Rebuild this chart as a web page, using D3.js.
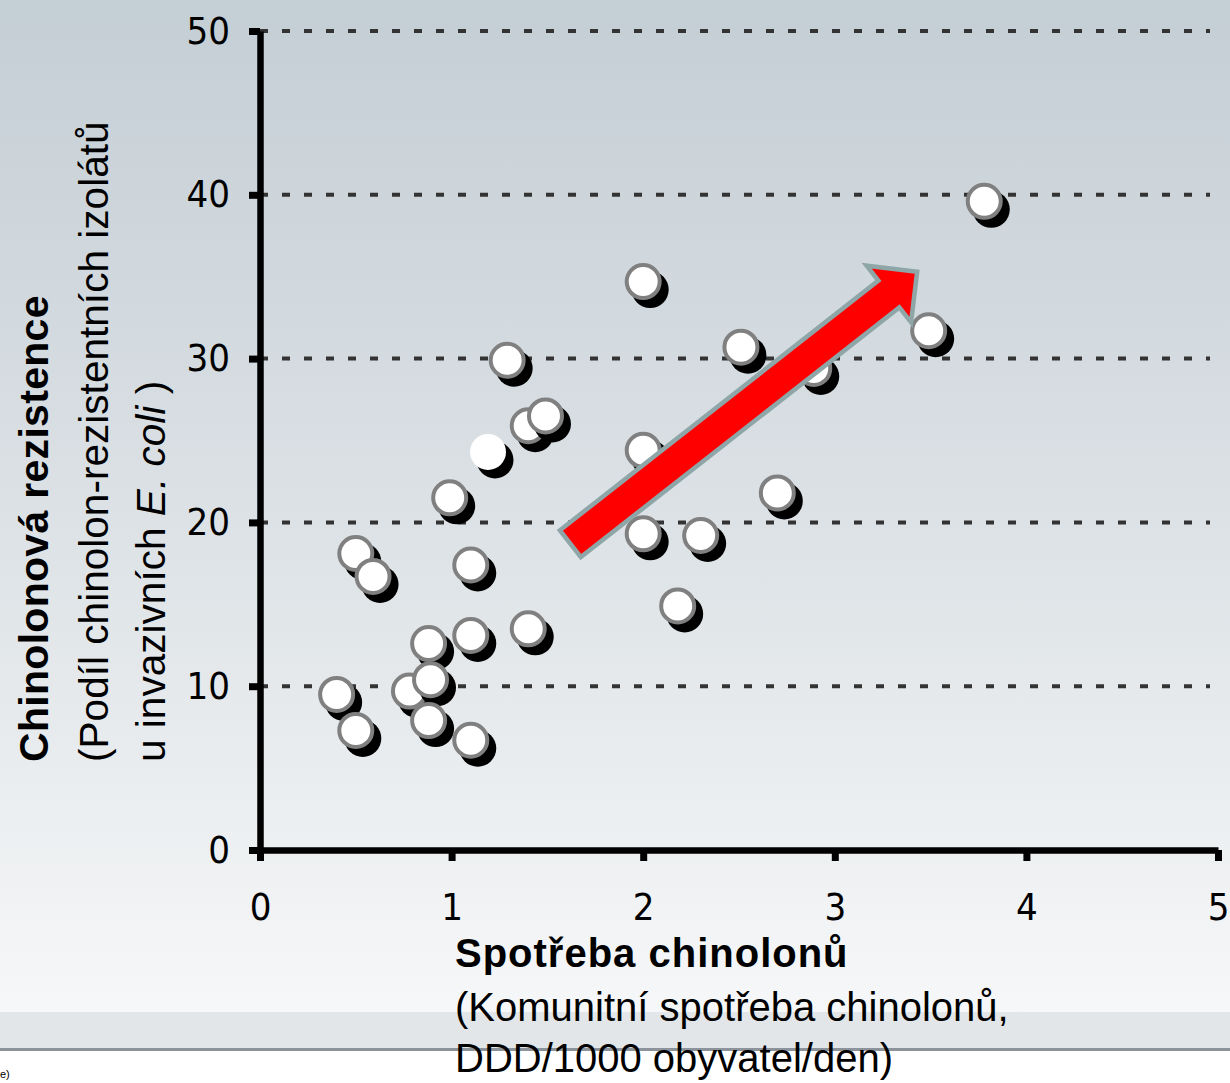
<!DOCTYPE html>
<html>
<head>
<meta charset="utf-8">
<script src="https://cdn.jsdelivr.net/npm/d3@7"></script>
<style>
  html, body { margin: 0; padding: 0; background: #ffffff; }
  svg { display: block; }
</style>
</head>
<body>
<div id="scatter"></div>
<script>
// Data
var consumption = [3.78, 3.49, 2.0, 2.51, 2.89, 1.29, 1.40, 1.49, 1.19, 0.99,
                   2.0, 2.0, 2.30, 2.70, 2.18, 0.50, 0.59, 1.10, 0.88, 1.10,
                   1.40, 0.40, 0.50, 0.78, 0.89, 0.88, 1.10];
var resistance = [39.6, 31.7, 34.7, 30.7, 29.4, 29.9, 25.9, 26.5, 24.3, 21.5,
                  24.4, 19.3, 19.2, 21.8, 14.9, 18.1, 16.7, 17.4, 12.6, 13.1,
                  13.5, 9.5, 7.3, 9.7, 10.4, 7.9, 6.7];
// one point has no outline
var noOutline = [8];

var xTicks = [0, 1, 2, 3, 4, 5];
var yTicks = [0, 10, 20, 30, 40, 50];
var gridTicks = [10, 20, 30, 40, 50];

// trend arrow, from tail to tip, in data units
var arrowFrom = [1.62, 18.7];
var arrowTo = [3.43, 35.3];

var yTitle = ["Chinolonová rezistence", "(Podíl chinolon-rezistentních izolátů"];
var xTitle = ["Spotřeba chinolonů", "(Komunitní spotřeba chinolonů,", "DDD/1000 obyvatel/den)"];

// Set up SVG
var svgWidth = 1230;
var svgHeight = 1083;

var svg = d3.select("#scatter")
    .append("svg")
    .attr("width", svgWidth)
    .attr("height", svgHeight);

// background gradient
var defs = svg.append("defs");
var grad = defs.append("linearGradient")
    .attr("id", "bg")
    .attr("x1", 0).attr("y1", 0).attr("x2", 0).attr("y2", 1);
grad.append("stop").attr("offset", "0%").attr("stop-color", "#c4ced5");
grad.append("stop").attr("offset", "45%").attr("stop-color", "#d9dfe3");
grad.append("stop").attr("offset", "100%").attr("stop-color", "#f6f7f8");

svg.append("rect")
    .attr("width", svgWidth)
    .attr("height", 1012)
    .attr("fill", "url(#bg)");
svg.append("rect")
    .attr("y", 1012)
    .attr("width", svgWidth)
    .attr("height", 36)
    .attr("fill", "#e2e6e8");
svg.append("rect")
    .attr("y", 1048)
    .attr("width", svgWidth)
    .attr("height", 3)
    .attr("fill", "#8d939b");

svg.append("text")
    .attr("x", 0)
    .attr("y", 1078)
    .style("font-family", "Liberation Sans, Arial, sans-serif")
    .style("font-size", "11px")
    .text("e)");

// scales
var xScale = d3.scaleLinear()
    .domain([0, 5])
    .range([260, 1218]);

var yScale = d3.scaleLinear()
    .domain([0, 50])
    .range([850, 31]);

// dashed gridlines
svg.append("g")
    .selectAll("line")
    .data(gridTicks)
    .enter()
    .append("line")
    .attr("x1", xScale(0))
    .attr("x2", 1210)
    .attr("y1", d => yScale(d))
    .attr("y2", d => yScale(d))
    .attr("stroke", "#333333")
    .attr("stroke-width", 4)
    .attr("stroke-dasharray", "8,14");

// axes
var tickFont = "DejaVu Sans Condensed, DejaVu Sans, sans-serif";

var leftAxis = d3.axisLeft(yScale)
    .tickValues(yTicks)
    .tickFormat(d3.format("d"))
    .tickSize(11)
    .tickSizeOuter(0)
    .tickPadding(19);

var bottomAxis = d3.axisBottom(xScale)
    .tickValues(xTicks)
    .tickFormat(d3.format("d"))
    .tickSize(11)
    .tickSizeOuter(0)
    .tickPadding(32);

var xAxisG = svg.append("g")
    .attr("transform", `translate(0, ${yScale(0)})`)
    .call(bottomAxis);

var yAxisG = svg.append("g")
    .attr("transform", `translate(${xScale(0)}, 0)`)
    .call(leftAxis);

[xAxisG, yAxisG].forEach(function(g) {
    g.select(".domain").attr("stroke", "#000").attr("stroke-width", 6.5);
    g.selectAll(".tick line").attr("stroke", "#000").attr("stroke-width", 7);
    g.selectAll(".tick text")
        .attr("fill", "#000")
        .style("font-family", tickFont)
        .style("font-size", "38px");
});

// points: shadow, then white disc
var points = consumption.map((c, i) => ({ x: c, y: resistance[i], plain: noOutline.indexOf(i) >= 0 }));

var circlesGroup = svg.append("g");
var pts = circlesGroup.selectAll("g")
    .data(points)
    .enter()
    .append("g");

pts.append("circle")
    .attr("cx", d => xScale(d.x) + 7)
    .attr("cy", d => yScale(d.y) + 8)
    .attr("r", 18.5)
    .attr("fill", "#000");

pts.append("circle")
    .attr("cx", d => xScale(d.x))
    .attr("cy", d => yScale(d.y))
    .attr("r", d => d.plain ? 18 : 16.5)
    .attr("fill", "#fff")
    .attr("stroke", d => d.plain ? "none" : "#808080")
    .attr("stroke-width", 4);

// red arrow
var ax0 = xScale(arrowFrom[0]), ay0 = yScale(arrowFrom[1]);
var ax1 = xScale(arrowTo[0]), ay1 = yScale(arrowTo[1]);
var len = Math.hypot(ax1 - ax0, ay1 - ay0);
var ux = (ax1 - ax0) / len, uy = (ay1 - ay0) / len;
var nx = -uy, ny = ux;
var bodyHalf = 17, headHalf = 36, headLen = 36;
var bx = ax1 - ux * headLen, by = ay1 - uy * headLen;
var arrowPts = [
    [ax0 + nx * bodyHalf, ay0 + ny * bodyHalf],
    [bx + nx * bodyHalf, by + ny * bodyHalf],
    [bx + nx * headHalf, by + ny * headHalf],
    [ax1, ay1],
    [bx - nx * headHalf, by - ny * headHalf],
    [bx - nx * bodyHalf, by - ny * bodyHalf],
    [ax0 - nx * bodyHalf, ay0 - ny * bodyHalf]
];

svg.append("path")
    .attr("d", d3.line()(arrowPts) + "Z")
    .attr("fill", "#ff0000")
    .attr("stroke", "#8ea6a8")
    .attr("stroke-width", 4.5)
    .attr("stroke-linejoin", "miter");

// axis titles
var titleFont = "Liberation Sans, Arial, sans-serif";

var yTitleG = svg.append("g")
    .attr("transform", "translate(0, 762) rotate(-90)")
    .style("font-family", titleFont)
    .style("font-size", "40.6px")
    .attr("fill", "#000");

yTitleG.append("text")
    .attr("x", 0)
    .attr("y", 48)
    .style("font-weight", "bold")
    .style("font-size", "41px")
    .style("letter-spacing", "0.3px")
    .text(yTitle[0]);

yTitleG.append("text")
    .attr("x", 0)
    .attr("y", 108)
    .text(yTitle[1]);

var third = yTitleG.append("text")
    .attr("x", 0)
    .attr("y", 165);
third.append("tspan").text("u invazivních ");
third.append("tspan").style("font-style", "italic").text("E. coli");
third.append("tspan").text(" )");

var xTitleG = svg.append("g")
    .style("font-family", titleFont)
    .style("font-size", "40px")
    .attr("fill", "#000");

xTitleG.selectAll("text")
    .data(xTitle)
    .enter()
    .append("text")
    .attr("x", 455)
    .attr("y", (d, i) => [967, 1021, 1072][i])
    .style("font-weight", (d, i) => i === 0 ? "bold" : "normal")
    .style("letter-spacing", (d, i) => i === 0 ? "1px" : "0px")
    .text(d => d);
</script>
</body>
</html>
